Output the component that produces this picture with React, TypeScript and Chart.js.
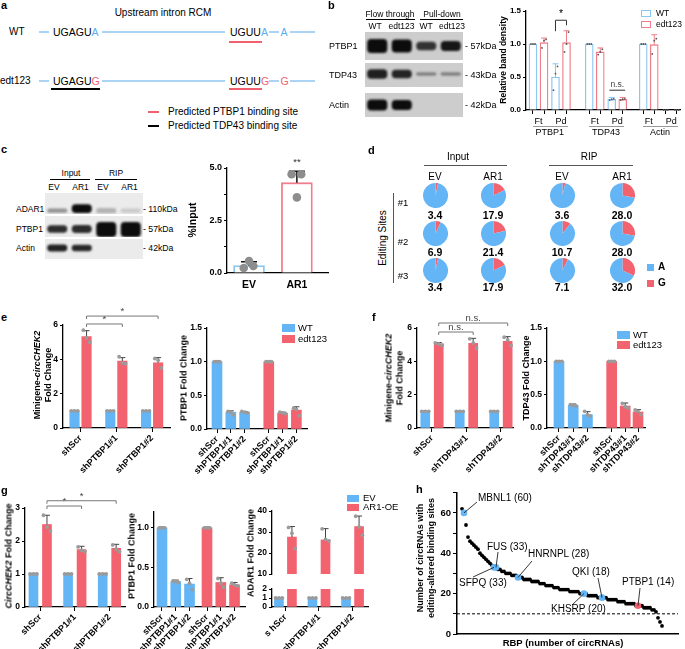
import React, { useEffect, useRef } from 'react';
import { Chart, registerables } from 'chart.js';

Chart.register(...registerables);

const FONT = "'Liberation Sans', Arial, Helvetica, sans-serif";
Chart.defaults.font.family = FONT;
Chart.defaults.color = '#000';

// ---------------- colours
const BLUE = '#64B5F6';
const RED = '#F2626F';
const B_BLUE = '#8AC6F2';
const B_RED = '#F07E8A';
const DOT = '#9b9b9b';
const LINE_BLUE = '#AAD3F4';
const SEQ_BLUE = '#5AAEF2';
const SEQ_RED = '#F0606E';

// ---------------- panel a (schematic)
const A_TITLE = 'Upstream intron RCM';
const A_ROWS = ['WT', 'edt123'];
const A_LEGEND = ['Predicted PTBP1 binding site', 'Predicted TDP43 binding site'];

// ---------------- panel b
const B_GROUPS = ['PTBP1', 'TDP43', 'Actin'];
const B_FRACTIONS = ['Ft', 'Pd'];
const B_LANES = ['WT', 'edt123', 'WT', 'edt123'];
const B_HEADERS = ['Flow through', 'Pull-down'];
const B_GEL_ROWS = ['PTBP1', 'TDP43', 'Actin'];
const B_GEL_KDA = ['57kDa', '43kDa', '42kDa'];
const B_GEL_INT = [[1, 1, 0.8, 0.95], [0.9, 0.88, 0.45, 0.45], [1, 1, 0, 0]];
const B_GEL_THICK = [[0.5, 0.46, 0.3, 0.36], [0.4, 0.36, 0.12, 0.12], [0.46, 0.42, 0, 0]];
const B_GEL_CENTER = [[0.5, 0.5, 0.5, 0.5], [0.54, 0.54, 0.54, 0.54], [0.5, 0.5, 0.5, 0.5]];
// order: PTBP1 Ft, PTBP1 Pd, TDP43 Ft, TDP43 Pd, Actin Ft, Actin Pd
const B_WT = [1.0, 0.5, 1.0, 0.16, 1.0, 0.0];
const B_WT_SD = [0, 0.2, 0, 0.03, 0, 0];
const B_WT_PTS = [[1, 1, 1], [0.3, 0.55, 0.66], [1, 1, 1], [0.15, 0.16, 0.17], [1, 1, 1], [0, 0, 0]];
const B_EDT = [1.02, 1.02, 0.88, 0.16, 0.99, 0.0];
const B_EDT_SD = [0.07, 0.18, 0.06, 0.03, 0.15, 0];
const B_EDT_PTS = [[0.94, 1.05, 1.07], [0.88, 1.0, 1.18], [0.84, 0.88, 0.92], [0.15, 0.16, 0.17], [0.85, 1.05, 1.08], [0, 0, 0]];

// ---------------- panel c
const C_HEADERS = ['Input', 'RIP'];
const C_LANES = ['EV', 'AR1', 'EV', 'AR1'];
const C_GEL_ROWS = ['ADAR1', 'PTBP1', 'Actin'];
const C_GEL_KDA = ['110kDa', '57kDa', '42kDa'];
const C_GEL_INT = [[0.4, 1, 0.25, 0.15], [0.85, 0.85, 1, 1], [0.9, 0.88, 0, 0]];
const C_GEL_THICK = [[0.2, 0.42, 0.25, 0.2], [0.35, 0.38, 0.72, 0.72], [0.34, 0.32, 0, 0]];
const C_GEL_CENTER = [[0.16, 0.26, 0.16, 0.16], [0.38, 0.38, 0.36, 0.36], [0.55, 0.55, 0.55, 0.55]];
const C_GROUPS = ['EV', 'AR1'];
const C_MEAN = [0.35, 4.3];
const C_SD = [0.18, 0.55];
const C_PTS = [[0.24, 0.57, 0.33], [4.7, 3.6, 4.7]];

// ---------------- panel d
const D_HEADERS = ['Input', 'RIP'];
const D_CONDITIONS = ['EV', 'AR1', 'EV', 'AR1'];
const D_SITES = ['#1', '#2', '#3'];
const D_G = [[3.4, 17.9, 3.6, 28.0], [6.9, 21.4, 10.7, 28.0], [3.4, 17.9, 7.1, 32.0]];

// ---------------- panel e
const KD_PTBP1 = ['shScr', 'shPTBP1#1', 'shPTBP1#2'];
const E1_WT = [1.0, 1.0, 1.0];
const E1_WT_SD = [0.02, 0.02, 0.02];
const E1_WT_PTS = [[1, 1, 1], [1, 1, 1], [1, 1, 1]];
const E1_EDT = [5.32, 3.9, 3.8];
const E1_EDT_SD = [0.35, 0.2, 0.3];
const E1_EDT_PTS = [[5.7, 5.25, 5.0], [4.15, 3.8, 3.75], [4.05, 3.95, 3.5]];
const E2_WT = [1.0, 0.25, 0.25];
const E2_WT_SD = [0.01, 0.02, 0.01];
const E2_WT_PTS = [[1, 1, 1], [0.26, 0.25, 0.21], [0.26, 0.25, 0.24]];
const E2_EDT = [1.0, 0.235, 0.28];
const E2_EDT_SD = [0.01, 0.015, 0.05];
const E2_EDT_PTS = [[1, 1, 1], [0.25, 0.24, 0.23], [0.31, 0.29, 0.2]];

// ---------------- panel f
const KD_TDP43 = ['shScr', 'shTDP43#1', 'shTDP43#2'];
const F1_WT = [1.0, 1.0, 1.0];
const F1_WT_SD = [0.02, 0.02, 0.02];
const F1_WT_PTS = [[1, 1, 1], [1, 1, 1], [1, 1, 1]];
const F1_EDT = [5.05, 5.08, 5.2];
const F1_EDT_SD = [0.08, 0.3, 0.28];
const F1_EDT_PTS = [[5.1, 5.05, 4.97], [5.35, 5.1, 4.8], [5.45, 5.28, 4.95]];
const F2_WT = [1.0, 0.34, 0.2];
const F2_WT_SD = [0.01, 0.02, 0.045];
const F2_WT_PTS = [[1, 1, 1], [0.35, 0.34, 0.33], [0.25, 0.2, 0.18]];
const F2_EDT = [1.0, 0.33, 0.24];
const F2_EDT_SD = [0.01, 0.045, 0.035];
const F2_EDT_PTS = [[1, 1, 1], [0.37, 0.32, 0.3], [0.27, 0.25, 0.2]];

// ---------------- panel g
const G1_EV = [1.0, 1.0, 1.0];
const G1_EV_SD = [0.02, 0.02, 0.02];
const G1_EV_PTS = [[1, 1, 1], [1, 1, 1], [1, 1, 1]];
const G1_AR1 = [2.5, 1.74, 1.78];
const G1_AR1_SD = [0.28, 0.1, 0.12];
const G1_AR1_PTS = [[2.78, 2.42, 2.3], [1.82, 1.72, 1.68], [1.88, 1.75, 1.68]];
const G2_EV = [1.0, 0.32, 0.29];
const G2_EV_SD = [0.01, 0.02, 0.07];
const G2_EV_PTS = [[1, 1, 1], [0.33, 0.32, 0.31], [0.35, 0.3, 0.22]];
const G2_AR1 = [1.0, 0.31, 0.28];
const G2_AR1_SD = [0.01, 0.06, 0.03];
const G2_AR1_PTS = [[1, 1, 1], [0.36, 0.3, 0.25], [0.3, 0.28, 0.27]];
const G3_LABELS = ['s hScr', 'shPTBP1#1', 'shPTBP1#2'];
const G3_EV = [1.0, 1.0, 1.0];
const G3_EV_SD = [0.02, 0.02, 0.02];
const G3_EV_PTS = [[1, 1, 1], [1, 1, 1], [1, 1, 1]];
const G3_AR1 = [27.6, 26.2, 32.6];
const G3_AR1_SD = [5.0, 5.4, 5.0];
const G3_AR1_PTS = [[32.2, 29.4, 22.2], [31.5, 26.5, 25.8], [37.5, 32.4, 28.5]];

// ---------------- panel h
const H_COUNTS = [
  62, 60, 54, 48, 46, 45, 44, 43, 42, 40,
  39, 38, 37, 36, 35, 34, 33, 33, 32, 32,
  31, 31, 30, 30, 30, 29, 29, 29, 28, 28,
  28, 27, 27, 27, 27, 26, 26, 26, 26, 25,
  25, 25, 24, 24, 24, 24, 23, 23, 23, 22,
  22, 22, 22, 22, 21, 21, 21, 21, 21, 20,
  20, 20, 20, 19, 19, 19, 19, 19, 18, 18,
  18, 18, 18, 17, 17, 17, 17, 17, 16, 16,
  16, 16, 15, 15, 15, 15, 15, 14, 14, 14,
  14, 13, 13, 13, 13, 12, 12, 11, 8, 6,
  4,
];
const H_RBP_NAMES = ['MBNL1', 'SFPQ', 'FUS', 'HNRNPL', 'KHSRP', 'QKI', 'PTBP1'];
const H_RBP_INDEX = [1, 16, 17, 28, 61, 70, 88];
const H_THRESHOLD = 10;

// ================= layout (page pixels)
const H_CANVAS = [435, 485, 250, 164];
const H_PLOT = [457, 492, 678, 634];
const H_LABEL_POS = [[478, 498], [459, 583], [487, 547], [528, 554], [551, 609], [572, 572], [622, 582]];
const H_LEADER_END = [[477, 502], [473, 577], [498, 552], [532, 561], [572, 605], [598, 578], [640, 588]];

// ================= plugins
const errPlugin = {
  id: 'errbars',
  afterDatasetDraw(chart: any, args: any) {
    const ds = chart.data.datasets[args.index];
    if (!ds.sd) return;
    const xs = chart.scales.x, ys = chart.scales.y, ctx = chart.ctx;
    ctx.save();
    ctx.strokeStyle = ds.errColor;
    ctx.lineWidth = ds.errW;
    ds.data.forEach((d: any, i: number) => {
      const sd = ds.sd[i];
      if (!sd) return;
      const px = xs.getPixelForValue(d.x);
      const p0 = ys.getPixelForValue(d.y);
      const p1 = ys.getPixelForValue(d.y + sd);
      ctx.beginPath();
      ctx.moveTo(px, p0);
      ctx.lineTo(px, p1);
      ctx.moveTo(px - ds.cap, p1);
      ctx.lineTo(px + ds.cap, p1);
      ctx.stroke();
    });
    ctx.restore();
  },
};

function bracketPlugin(items: any[]) {
  return {
    id: 'brackets',
    afterDraw(chart: any) {
      const xs = chart.scales.x, ys = chart.scales.y, ctx = chart.ctx;
      items.forEach((it) => {
        const x1 = xs.getPixelForValue(it.x1);
        const x2 = xs.getPixelForValue(it.x2);
        const y = ys.getPixelForValue(it.y);
        ctx.save();
        if (it.line !== false) {
          ctx.strokeStyle = it.color || '#777';
          ctx.lineWidth = 1;
          const tl = it.tickL ?? 3, tr = it.tickR ?? 3;
          ctx.beginPath();
          ctx.moveTo(x1, y + tl);
          ctx.lineTo(x1, y);
          ctx.lineTo(x2, y);
          ctx.lineTo(x2, y + tr);
          ctx.stroke();
        }
        ctx.fillStyle = it.textColor || '#444';
        ctx.font = `${it.size || 9.5}px ${FONT}`;
        ctx.textAlign = 'center';
        ctx.textBaseline = 'bottom';
        ctx.fillText(it.label, (x1 + x2) / 2, y - (it.gap ?? 0));
        ctx.restore();
      });
    },
  };
}

// ================= chart builders
function barCfg(s: any) {
  const [cx, cy, cw, ch] = s.canvas;
  const [x0, y0, x1, y1] = s.plot;
  const l = x0 - cx, t = y0 - cy, r = cx + cw - x1, b = cy + ch - y1;
  const datasets: any[] = [];
  for (const se of s.series) {
    datasets.push({
      type: 'bar',
      data: se.x.map((xv: number, i: number) => ({ x: xv, y: se.y[i] })),
      backgroundColor: se.outline ? '#ffffff' : se.color,
      borderColor: se.color,
      borderWidth: se.outline ? (s.outlineW || 1.5) : 0,
      borderSkipped: 'start',
      barThickness: s.barW,
      grouped: false,
      order: 3,
      clip: 0,
      sd: se.sd,
      errColor: se.errColor || '#444',
      cap: s.cap ?? 3,
      errW: s.errW ?? 1,
    });
  }
  for (const se of s.series) {
    if (!se.pts) continue;
    const d: any[] = [];
    se.pts.forEach((arr: number[], i: number) =>
      arr.forEach((v: number, j: number) => d.push({ x: se.x[i] + s.jitter[j], y: v }))
    );
    datasets.push({
      type: 'scatter', data: d, pointRadius: s.dotR, pointHoverRadius: s.dotR,
      backgroundColor: s.dotColor, borderWidth: 0, order: 1, clip: s.dotClip ?? false,
    });
  }
  const yStep = s.yStep;
  return {
    type: 'bar',
    data: { datasets },
    options: {
      animation: false, responsive: false, maintainAspectRatio: false, events: [],
      layout: { padding: { left: 0, top: t, right: r, bottom: s.hideX ? b : 0 } },
      plugins: { legend: { display: false }, tooltip: { enabled: false } },
      scales: {
        x: {
          type: 'linear', min: s.xr[0], max: s.xr[1], offset: false, display: !s.hideX,
          grid: { display: (s.xTickLen || 0) > 0, drawOnChartArea: false, drawTicks: true, tickLength: s.xTickLen || 0, color: '#000', lineWidth: 1, offset: false },
          border: { display: true, color: '#000', width: 1.3 },
          ticks: {
            autoSkip: false, maxRotation: s.xRot || 0, minRotation: s.xRot || 0, padding: s.xPad ?? 1, color: '#000',
            font: { size: s.xFont || 9, weight: 'bold', family: FONT },
            callback: (_v: any, i: number) => (s.xLabels && s.xLabels[i]) || '',
          },
          afterBuildTicks: (sc: any) => { sc.ticks = (s.xTicks || []).map((v: number) => ({ value: v })); },
          afterFit: (sc: any) => { sc.height = b; },
        },
        y: {
          type: 'linear', min: s.yr[0], max: s.yr[1],
          grid: { drawOnChartArea: false, drawTicks: true, tickLength: 3, color: '#000', lineWidth: 1 },
          border: { display: true, color: '#000', width: 1.3 },
          ticks: {
            stepSize: yStep, autoSkip: false, padding: 2, color: '#000',
            font: { size: s.yFont || 8.5, weight: 'bold', family: FONT },
            callback: (v: number) => ((s.yShow ? s.yShow(v) : true) ? s.yFmt(v) : ''),
          },
          afterBuildTicks: (sc: any) => {
            sc.ticks = sc.ticks.filter((tk: any) => Math.abs(tk.value / yStep - Math.round(tk.value / yStep)) < 1e-6);
          },
          afterFit: (sc: any) => { sc.width = l; },
        },
      },
    },
    plugins: [errPlugin, bracketPlugin(s.brackets || [])],
  };
}

function gelCfg(intens: number[], thick: number[], center: number[], bg: string) {
  return {
    type: 'bar',
    data: {
      labels: intens.map((_, i) => 'lane' + i),
      datasets: [{
        data: intens.map((_, i) => [center[i] - thick[i] / 2, center[i] + thick[i] / 2]),
        backgroundColor: intens.map((v) => `rgba(12,12,12,${v})`),
        borderWidth: 0, borderRadius: 4, borderSkipped: false,
        barPercentage: 0.82, categoryPercentage: 1,
      }],
    },
    options: {
      animation: false, responsive: false, events: [],
      layout: { padding: 0 },
      plugins: { legend: { display: false }, tooltip: { enabled: false } },
      scales: { x: { display: false }, y: { display: false, min: 0, max: 1 } },
    },
    plugins: [{
      id: 'gelbg',
      beforeDraw(c: any) { const g = c.ctx; g.save(); g.fillStyle = bg; g.fillRect(0, 0, c.width, c.height); g.restore(); },
      beforeDatasetsDraw(c: any) { c.ctx.save(); c.ctx.filter = 'blur(1.3px)'; },
      afterDatasetsDraw(c: any) { c.ctx.restore(); },
    }],
  };
}

function pieCfg(g: number) {
  return {
    type: 'pie',
    data: { labels: ['G', 'A'], datasets: [{ data: [g, 100 - g], backgroundColor: [RED, BLUE], borderWidth: 0 }] },
    options: {
      animation: false, responsive: false, events: [], layout: { padding: 0 },
      plugins: { legend: { display: false }, tooltip: { enabled: false } },
    },
  };
}

// schematic segments (panel-local pixel layout)
const A_BACKBONE = [[39, 49], [102, 225], [269, 279], [290, 315]];
const A_ROW_Y = [32, 81];
function seg(spans: number[][], y: number) {
  return spans.flatMap(([a, b]) => [{ x: a, y }, { x: b, y }, { x: b, y: null }]);
}
function aCfg() {
  return {
    type: 'line',
    data: {
      datasets: [
        { data: [...seg(A_BACKBONE, A_ROW_Y[0]), ...seg(A_BACKBONE, A_ROW_Y[1])], borderColor: LINE_BLUE, borderWidth: 2, pointRadius: 0 },
        { data: [...seg([[229, 262]], 42), ...seg([[229, 262]], 89), ...seg([[148, 159]], 112)], borderColor: SEQ_RED, borderWidth: 2, pointRadius: 0 },
        { data: [...seg([[51, 100]], 89), ...seg([[148, 159]], 126)], borderColor: '#000', borderWidth: 2.2, pointRadius: 0 },
      ],
    },
    options: {
      animation: false, responsive: false, events: [], layout: { padding: 0 },
      plugins: { legend: { display: false }, tooltip: { enabled: false } },
      scales: {
        x: { type: 'linear', min: 0, max: 330, display: false },
        y: { type: 'linear', min: 0, max: 140, reverse: true, display: false },
      },
    },
  };
}

function hCfg() {
  const [cx, cy, cw, ch] = H_CANVAS;
  const [x0, y0, x1, y1] = H_PLOT;
  const l = x0 - cx, t = y0 - cy, r = cx + cw - x1, b = cy + ch - y1;
  return {
    type: 'scatter',
    data: {
      datasets: [
        { data: H_COUNTS.map((v, i) => ({ x: i, y: v })), pointRadius: 1.9, backgroundColor: '#000', borderWidth: 0, order: 2 },
        {
          data: H_RBP_INDEX.map((i) => ({ x: i, y: H_COUNTS[i] })), pointRadius: 3.3,
          backgroundColor: H_RBP_NAMES.map((n) => (n === 'PTBP1' ? RED : BLUE)), borderWidth: 0, order: 1,
        },
      ],
    },
    options: {
      animation: false, responsive: false, events: [],
      layout: { padding: { left: 0, top: t, right: r, bottom: 0 } },
      plugins: { legend: { display: false }, tooltip: { enabled: false } },
      scales: {
        x: {
          type: 'linear', min: -2.5, max: 108, grid: { display: false },
          border: { display: true, color: '#000', width: 1.5 }, ticks: { display: false },
          afterFit: (sc: any) => { sc.height = b; },
        },
        y: {
          type: 'linear', min: 0, max: 70,
          grid: { drawOnChartArea: false, tickLength: 4, color: '#000' },
          border: { display: true, color: '#000', width: 1.5 },
          ticks: { stepSize: 10, padding: 2, color: '#000', font: { size: 9.5, weight: 'bold', family: FONT }, callback: (v: number) => (v % 20 === 0 ? String(v) : '') },
          afterFit: (sc: any) => { sc.width = l; },
        },
      },
    },
    plugins: [
      {
        id: 'threshold',
        beforeDatasetsDraw(c: any) {
          const y = c.scales.y.getPixelForValue(H_THRESHOLD);
          const g = c.ctx;
          g.save(); g.strokeStyle = '#000'; g.lineWidth = 1; g.setLineDash([3, 2]);
          g.beginPath(); g.moveTo(c.chartArea.left, y); g.lineTo(c.chartArea.right, y); g.stroke(); g.restore();
        },
      },
      {
        id: 'leaders',
        afterDatasetsDraw(c: any) {
          const g = c.ctx;
          g.save(); g.strokeStyle = '#222'; g.lineWidth = 0.9;
          H_RBP_INDEX.forEach((idx, k) => {
            const px = c.scales.x.getPixelForValue(idx);
            const py = c.scales.y.getPixelForValue(H_COUNTS[idx]);
            const [ex, ey] = H_LEADER_END[k];
            g.beginPath(); g.moveTo(px, py); g.lineTo(ex - cx, ey - cy); g.stroke();
          });
          g.restore();
        },
      },
    ],
  };
}

// ================= components
function Cv({ box, make }: any) {
  const ref = useRef<HTMLCanvasElement | null>(null);
  useEffect(() => {
    const ch = new Chart(ref.current as HTMLCanvasElement, make());
    return () => ch.destroy();
  }, []);
  return (
    <canvas ref={ref} width={box[2]} height={box[3]}
      style={{ position: 'absolute', left: box[0], top: box[1], width: box[2], height: box[3] }} />
  );
}

function T({ x, y, s = 9, b = false, a = 'l', r = 0, c = '#000', lh, children }: any) {
  const tx = a === 'l' ? '0%' : a === 'c' ? '-50%' : '-100%';
  return (
    <div style={{
      position: 'absolute', left: x, top: y, fontSize: s, fontWeight: b ? 700 : 400, color: c,
      whiteSpace: 'nowrap', lineHeight: lh ? `${lh}px` : 1, textAlign: 'center',
      transform: `translate(${tx},-50%)` + (r ? ` rotate(${r}deg)` : ''),
    }}>{children}</div>
  );
}

function HL({ x1, x2, y, c = '#000', w = 1 }: any) {
  return <div style={{ position: 'absolute', left: x1, top: y - w / 2, width: x2 - x1, height: w, background: c }} />;
}
function VL({ x, y1, y2, c = '#000', w = 1 }: any) {
  return <div style={{ position: 'absolute', left: x - w / 2, top: y1, width: w, height: y2 - y1, background: c }} />;
}
function Sw({ x, y, w, h, c, outline }: any) {
  return <div style={{
    position: 'absolute', left: x, top: y - h / 2, width: w, height: h, boxSizing: 'border-box',
    background: outline ? '#fff' : c, border: outline ? `1.5px solid ${c}` : 'none',
  }} />;
}

// ================= specs
const B_POS = [1, 2, 3.5, 4.5, 5.9, 6.9];
const B_OFF = 0.245;
const bSpec = {
  canvas: [488, 0, 197, 140], plot: [526, 11, 680, 110],
  xr: [0.444, 7.29], yr: [0, 1.5], yStep: 0.5, yFmt: (v: number) => v.toFixed(1), yFont: 8,
  xTicks: B_POS.flatMap((p) => [p - B_OFF, p + B_OFF]), xLabels: [], xTickLen: 4,
  series: [
    { x: B_POS.map((p) => p - B_OFF), y: B_WT, sd: B_WT_SD, pts: B_WT_PTS, color: B_BLUE, outline: true, errColor: B_BLUE },
    { x: B_POS.map((p) => p + B_OFF), y: B_EDT, sd: B_EDT_SD, pts: B_EDT_PTS, color: B_RED, outline: true, errColor: B_RED },
  ],
  barW: 8, jitter: [-0.09, 0, 0.09], dotR: 0.9, dotColor: '#555', cap: 3, outlineW: 1.3,
  brackets: [
    { x1: 2 - B_OFF, x2: 2 + B_OFF, y: 1.36, label: '*', tickL: 11, tickR: 5, color: '#333', gap: 1, size: 10.5, textColor: '#000' },
    { x1: 4.5 - 0.35, x2: 4.5 + 0.35, y: 0.3, label: 'n.s.', line: true, tickL: 0, tickR: 0, color: '#333', gap: 1, size: 8.5 },
  ],
};
const bx = (p: number) => 526 + (p - 0.444) * (154 / (7.29 - 0.444));

const cSpec = {
  canvas: [195, 150, 145, 150], plot: [227, 168, 328, 273],
  xr: [0.54, 2.65], yr: [0, 5], yStep: 1.25, yShow: (v: number) => Math.abs(v / 2.5 - Math.round(v / 2.5)) < 1e-6,
  yFmt: (v: number) => v.toFixed(1), yFont: 9,
  xTicks: [1, 2], xLabels: C_GROUPS, xTickLen: 0, xFont: 10.5, xPad: 6,
  series: [
    { x: [1], y: [C_MEAN[0]], sd: [C_SD[0]], pts: [C_PTS[0]], color: B_BLUE, outline: true, errColor: '#111' },
    { x: [2], y: [C_MEAN[1]], sd: [C_SD[1]], pts: [C_PTS[1]], color: B_RED, outline: true, errColor: '#111' },
  ],
  barW: 31, jitter: [-0.11, 0, 0.09], dotR: 4.3, dotColor: '#8d8d8d', cap: 8, errW: 1.5, outlineW: 1.8,
  brackets: [{ x1: 2, x2: 2, y: 5.0, label: '**', line: false, gap: 1, size: 9.5, textColor: '#333' }],
};

const E_OFF = 0.168;
const e1Spec = {
  canvas: [28, 298, 150, 190], plot: [63, 325, 170, 428],
  xr: [0.51, 3.5], yr: [0, 6], yStep: 2, yFmt: (v: number) => String(v),
  xTicks: [1, 2, 3], xLabels: KD_PTBP1, xRot: 45, xTickLen: 4,
  series: [
    { x: [1 - E_OFF, 2 - E_OFF, 3 - E_OFF], y: E1_WT, sd: E1_WT_SD, pts: E1_WT_PTS, color: BLUE },
    { x: [1 + E_OFF, 2 + E_OFF, 3 + E_OFF], y: E1_EDT, sd: E1_EDT_SD, pts: E1_EDT_PTS, color: RED },
  ],
  barW: 9.5, jitter: [-0.09, 0, 0.09], dotR: 1.9, dotColor: DOT, cap: 3,
  brackets: [
    { x1: 1 + E_OFF, x2: 2 + E_OFF, y: 6.06, label: '*' },
    { x1: 1 + E_OFF, x2: 3 + E_OFF, y: 6.52, label: '*' },
  ],
};
const e2Spec = {
  canvas: [172, 318, 150, 170], plot: [207, 328, 307, 429],
  xr: [0.275, 7.52], yr: [0, 1.5], yStep: 0.5, yFmt: (v: number) => v.toFixed(1),
  xTicks: [1, 2, 3, 4.75, 5.75, 6.75], xLabels: [...KD_PTBP1, ...KD_PTBP1], xRot: 45, xTickLen: 4,
  series: [
    { x: [1, 2, 3], y: E2_WT, sd: E2_WT_SD, pts: E2_WT_PTS, color: BLUE },
    { x: [4.75, 5.75, 6.75], y: E2_EDT, sd: E2_EDT_SD, pts: E2_EDT_PTS, color: RED },
  ],
  barW: 10, jitter: [-0.2, 0, 0.2], dotR: 1.9, dotColor: DOT, cap: 3,
};

const F_OFF = 0.195;
const f1Spec = {
  canvas: [382, 300, 140, 188], plot: [417, 328, 513, 428],
  xr: [0.565, 3.35], yr: [0, 6], yStep: 2, yFmt: (v: number) => String(v),
  xTicks: [1, 2, 3], xLabels: KD_TDP43, xRot: 45, xTickLen: 4,
  series: [
    { x: [1 - F_OFF, 2 - F_OFF, 3 - F_OFF], y: F1_WT, sd: F1_WT_SD, pts: F1_WT_PTS, color: BLUE },
    { x: [1 + F_OFF, 2 + F_OFF, 3 + F_OFF], y: F1_EDT, sd: F1_EDT_SD, pts: F1_EDT_PTS, color: RED },
  ],
  barW: 9, jitter: [-0.1, 0, 0.1], dotR: 1.9, dotColor: DOT, cap: 3,
  brackets: [
    { x1: 1 + F_OFF, x2: 2 + F_OFF, y: 5.76, label: 'n.s.', size: 9.5 },
    { x1: 1 + F_OFF, x2: 3 + F_OFF, y: 6.3, label: 'n.s.', size: 9.5 },
  ],
};
const f2Spec = {
  canvas: [512, 318, 150, 170], plot: [547, 328, 645, 428],
  xr: [0.16, 7.04], yr: [0, 1.5], yStep: 0.5, yFmt: (v: number) => v.toFixed(1),
  xTicks: [1, 2, 3, 4.7, 5.65, 6.55], xLabels: [...KD_TDP43, ...KD_TDP43], xRot: 45, xTickLen: 4,
  series: [
    { x: [1, 2, 3], y: F2_WT, sd: F2_WT_SD, pts: F2_WT_PTS, color: BLUE },
    { x: [4.7, 5.65, 6.55], y: F2_EDT, sd: F2_EDT_SD, pts: F2_EDT_PTS, color: RED },
  ],
  barW: 10, jitter: [-0.2, 0, 0.2], dotR: 1.9, dotColor: DOT, cap: 3,
};

const G_OFF = 0.195;
const g1Spec = {
  canvas: [0, 485, 135, 164], plot: [25, 508, 125, 607],
  xr: [0.56, 3.45], yr: [0, 3], yStep: 1, yFmt: (v: number) => String(v),
  xTicks: [1, 2, 3], xLabels: KD_PTBP1, xRot: 45, xTickLen: 4,
  series: [
    { x: [1 - G_OFF, 2 - G_OFF, 3 - G_OFF], y: G1_EV, sd: G1_EV_SD, pts: G1_EV_PTS, color: BLUE },
    { x: [1 + G_OFF, 2 + G_OFF, 3 + G_OFF], y: G1_AR1, sd: G1_AR1_SD, pts: G1_AR1_PTS, color: RED },
  ],
  barW: 9, jitter: [-0.1, 0, 0.1], dotR: 1.9, dotColor: DOT, cap: 3,
  brackets: [
    { x1: 1 + G_OFF, x2: 2 + G_OFF, y: 3.06, label: '*' },
    { x1: 1 + G_OFF, x2: 3 + G_OFF, y: 3.22, label: '*' },
  ],
};
const g2Spec = {
  canvas: [122, 500, 133, 149], plot: [154, 512, 245, 607],
  xr: [0.42, 7.03], yr: [0, 1.2], yStep: 0.5, yFmt: (v: number) => v.toFixed(1),
  xTicks: [1, 2, 3, 4.27, 5.27, 6.27], xLabels: [...KD_PTBP1, ...KD_PTBP1], xRot: 45, xTickLen: 4,
  series: [
    { x: [1, 2, 3], y: G2_EV, sd: G2_EV_SD, pts: G2_EV_PTS, color: BLUE },
    { x: [4.27, 5.27, 6.27], y: G2_AR1, sd: G2_AR1_SD, pts: G2_AR1_PTS, color: RED },
  ],
  barW: 10, jitter: [-0.2, 0, 0.2], dotR: 1.9, dotColor: DOT, cap: 3,
};
const G3_OFF = 0.194;
const g3UpSpec = {
  canvas: [240, 500, 138, 90], plot: [272, 511, 368, 582],
  xr: [0.6, 3.46], yr: [10, 40], yStep: 10, yFmt: (v: number) => String(v), hideX: true, xTicks: [],
  series: [{ x: [1 + G3_OFF, 2 + G3_OFF, 3 + G3_OFF], y: G3_AR1, sd: G3_AR1_SD, pts: G3_AR1_PTS, color: RED }],
  barW: 9, jitter: [-0.1, 0, 0.1], dotR: 1.9, dotColor: DOT, cap: 3,
};
const g3LoSpec = {
  canvas: [240, 580, 138, 69], plot: [272, 589, 368, 607],
  xr: [0.6, 3.46], yr: [0, 2], yStep: 1, yFmt: (v: number) => String(v),
  xTicks: [1, 2, 3], xLabels: G3_LABELS, xRot: 45, xTickLen: 4,
  series: [
    { x: [1 - G3_OFF, 2 - G3_OFF, 3 - G3_OFF], y: G3_EV, sd: G3_EV_SD, pts: G3_EV_PTS, color: BLUE },
    { x: [1 + G3_OFF, 2 + G3_OFF, 3 + G3_OFF], y: G3_AR1, color: RED },
  ],
  barW: 9, jitter: [-0.1, 0, 0.1], dotR: 1.9, dotColor: DOT, cap: 3,
};

const B_STRIPS = [[365, 32, 98, 28], [365, 63, 98, 24], [365, 93, 98, 24]];
const C_STRIPS = [[45, 193, 98, 21], [45, 216, 98, 21], [45, 239, 98, 20]];
const D_COLS = [435, 493, 562, 622];
const D_ROWS = [195, 233, 270];
const D_VAL_Y = [215, 252, 287];

export default function App() {
  const bFtX = B_POS.map(bx);
  return (
    <div style={{ position: 'absolute', left: 0, top: 0, width: 685, height: 649, background: '#fff', fontFamily: FONT, overflow: 'hidden', color: '#000' }}>
      {/* ---------- a ---------- */}
      <T x={1} y={5} s={11} b>a</T>
      <T x={163} y={13} s={10} a="c">{A_TITLE}</T>
      <T x={9} y={A_ROW_Y[0]} s={10}>{A_ROWS[0]}</T>
      <T x={0} y={A_ROW_Y[1]} s={10}>{A_ROWS[1]}</T>
      <T x={53} y={A_ROW_Y[0]} s={10.5}>UGAGU<span style={{ color: SEQ_BLUE }}>A</span></T>
      <T x={230} y={A_ROW_Y[0]} s={10.5}>UGUU<span style={{ color: SEQ_BLUE }}>A</span></T>
      <T x={280.5} y={A_ROW_Y[0]} s={10.5} c={SEQ_BLUE}>A</T>
      <T x={53} y={A_ROW_Y[1]} s={10.5}>UGAGU<span style={{ color: SEQ_RED }}>G</span></T>
      <T x={230} y={A_ROW_Y[1]} s={10.5}>UGUU<span style={{ color: SEQ_RED }}>G</span></T>
      <T x={280.5} y={A_ROW_Y[1]} s={10.5} c={SEQ_RED}>G</T>
      <T x={168} y={112} s={10}>{A_LEGEND[0]}</T>
      <T x={168} y={126} s={10}>{A_LEGEND[1]}</T>
      <Cv box={[0, 0, 330, 140]} make={aCfg} />

      {/* ---------- b ---------- */}
      <T x={328} y={5} s={11} b>b</T>
      <T x={390} y={14} s={8.5} a="c">{B_HEADERS[0]}</T>
      <HL x1={366} x2={415} y={19.5} />
      <T x={442} y={14} s={8.5} a="c">{B_HEADERS[1]}</T>
      <HL x1={420} x2={463} y={19.5} />
      {[375, 401.5, 426, 452].map((x, i) => <T key={'bl' + i} x={x} y={25.5} s={8.5} a="c">{B_LANES[i]}</T>)}
      {B_GEL_ROWS.map((n, i) => <T key={'br' + i} x={329} y={[46, 75, 105][i]} s={9}>{n}</T>)}
      {B_GEL_KDA.map((n, i) => <T key={'bk' + i} x={465} y={[46, 75, 105][i]} s={9}>{'- ' + n}</T>)}
      {B_STRIPS.map((bx4, i) => (
        <Cv key={'bg' + i} box={bx4} make={() => gelCfg(B_GEL_INT[i], B_GEL_THICK[i], B_GEL_CENTER[i], '#cdcdcd')} />
      ))}
      <Cv box={bSpec.canvas} make={() => barCfg(bSpec)} />
      <T x={503} y={60} s={8.5} b a="c" r={-90}>Relative band density</T>
      {bFtX.map((x, i) => <T key={'bf' + i} x={x} y={121} s={9} a="c">{B_FRACTIONS[i % 2]}</T>)}
      {B_GROUPS.map((g, k) => (
        <React.Fragment key={'bgr' + k}>
          <HL x1={bFtX[2 * k] - 6} x2={bFtX[2 * k + 1] + 7} y={126} c="#999" />
          <T x={(bFtX[2 * k] + bFtX[2 * k + 1]) / 2} y={131.5} s={9} a="c">{g}</T>
        </React.Fragment>
      ))}
      <Sw x={641} y={13} w={10} h={7} c={B_BLUE} outline />
      <T x={656} y={13} s={8.5}>WT</T>
      <Sw x={641} y={24} w={10} h={7} c={B_RED} outline />
      <T x={656} y={24} s={8.5}>edt123</T>

      {/* ---------- c ---------- */}
      <T x={1} y={149} s={11} b>c</T>
      <T x={71} y={173} s={8.5} a="c">{C_HEADERS[0]}</T>
      <HL x1={50} x2={90} y={179} />
      <T x={116} y={173} s={8.5} a="c">{C_HEADERS[1]}</T>
      <HL x1={95} x2={137} y={179} />
      {[54, 80.5, 103, 129.5].map((x, i) => <T key={'cl' + i} x={x} y={187} s={8.5} a="c">{C_LANES[i]}</T>)}
      {C_GEL_ROWS.map((n, i) => <T key={'cr' + i} x={16} y={[209, 229, 248][i]} s={8.5}>{n}</T>)}
      {C_GEL_KDA.map((n, i) => <T key={'ck' + i} x={143} y={[209, 229, 248][i]} s={8.7}>{'- ' + n}</T>)}
      {C_STRIPS.map((bx4, i) => (
        <Cv key={'cg' + i} box={bx4} make={() => gelCfg(C_GEL_INT[i], C_GEL_THICK[i], C_GEL_CENTER[i], '#ebebeb')} />
      ))}
      <Cv box={cSpec.canvas} make={() => barCfg(cSpec)} />
      <T x={192} y={220} s={10.5} b a="c" r={-90}>%Input</T>

      {/* ---------- d ---------- */}
      <T x={368} y={150} s={11} b>d</T>
      <T x={458} y={157} s={10} a="c">{D_HEADERS[0]}</T>
      <HL x1={424} x2={507} y={165} c="#555" />
      <T x={589} y={157} s={10} a="c">{D_HEADERS[1]}</T>
      <HL x1={549} x2={633} y={165} c="#555" />
      {D_COLS.map((x, i) => <T key={'dc' + i} x={x} y={177} s={10} a="c">{D_CONDITIONS[i]}</T>)}
      <VL x={393} y1={193} y2={283} c="#555" />
      <T x={383} y={238} s={10} a="c" r={-90}>Editing Sites</T>
      {D_SITES.map((s, r) => <T key={'ds' + r} x={403} y={[203, 242, 276][r]} s={9.5} a="c">{s}</T>)}
      {D_G.map((row, r) => row.map((g, c) => (
        <React.Fragment key={'dp' + r + c}>
          <Cv box={[D_COLS[c] - 12.5, D_ROWS[r] - 12.5, 25, 25]} make={() => pieCfg(g)} />
          <T x={D_COLS[c]} y={D_VAL_Y[r]} s={10.5} b a="c">{g.toFixed(1)}</T>
        </React.Fragment>
      )))}
      <Sw x={647} y={267} w={7} h={7} c={BLUE} />
      <T x={658} y={267} s={10} b>A</T>
      <Sw x={647} y={283} w={7} h={7} c={RED} />
      <T x={658} y={283} s={10} b>G</T>

      {/* ---------- e ---------- */}
      <T x={1} y={317} s={11} b>e</T>
      <Cv box={e1Spec.canvas} make={() => barCfg(e1Spec)} />
      <T x={42} y={375} s={9} b a="c" r={-90} lh={10.5}>Minigene-<i>circCHEK2</i><br />Fold Change</T>
      <Cv box={e2Spec.canvas} make={() => barCfg(e2Spec)} />
      <T x={184} y={378} s={9} b a="c" r={-90}>PTBP1 Fold Change</T>
      <Sw x={282} y={328} w={13} h={8} c={BLUE} />
      <T x={298} y={328} s={9.5}>WT</T>
      <Sw x={282} y={339} w={13} h={8} c={RED} />
      <T x={298} y={339} s={9.5}>edt123</T>

      {/* ---------- f ---------- */}
      <T x={372} y={317} s={11} b>f</T>
      <Cv box={f1Spec.canvas} make={() => barCfg(f1Spec)} />
      <T x={394} y={378} s={9} b a="c" r={-90} lh={10.5}>Minigene-<i>circCHEK2</i><br />Fold Change</T>
      <Cv box={f2Spec.canvas} make={() => barCfg(f2Spec)} />
      <T x={526} y={378} s={9} b a="c" r={-90}>TDP43 Fold Change</T>
      <Sw x={617} y={335} w={13} h={8} c={BLUE} />
      <T x={633} y={335} s={9.5}>WT</T>
      <Sw x={617} y={345} w={13} h={8} c={RED} />
      <T x={633} y={345} s={9.5}>edt123</T>

      {/* ---------- g ---------- */}
      <T x={1} y={490} s={11} b>g</T>
      <Cv box={g1Spec.canvas} make={() => barCfg(g1Spec)} />
      <T x={9} y={556} s={9} b a="c" r={-90}><i>CircCHEK2</i> Fold Change</T>
      <Cv box={g2Spec.canvas} make={() => barCfg(g2Spec)} />
      <T x={132} y={556} s={9} b a="c" r={-90}>PTBP1 Fold Change</T>
      <Cv box={g3UpSpec.canvas} make={() => barCfg(g3UpSpec)} />
      <Cv box={g3LoSpec.canvas} make={() => barCfg(g3LoSpec)} />
      <T x={251} y={553} s={9} b a="c" r={-90}>ADAR1 Fold Change</T>
      <Sw x={347} y={498} w={12} h={7} c={BLUE} />
      <T x={363} y={498} s={9.5}>EV</T>
      <Sw x={347} y={507} w={12} h={7} c={RED} />
      <T x={363} y={507} s={9.5}>AR1-OE</T>

      {/* ---------- h ---------- */}
      <T x={416} y={489} s={11} b>h</T>
      <Cv box={H_CANVAS} make={hCfg} />
      <T x={425.5} y={558} s={9} b a="c" r={-90} lh={11}>Number of circRNAs with<br />editing-altered binding sites</T>
      <T x={563} y={643} s={9.5} b a="c">RBP (number of circRNAs)</T>
      {H_RBP_NAMES.map((n, k) => (
        <T key={'hl' + k} x={H_LABEL_POS[k][0]} y={H_LABEL_POS[k][1]} s={10}>{`${n} (${H_COUNTS[H_RBP_INDEX[k]]})`}</T>
      ))}
    </div>
  );
}
